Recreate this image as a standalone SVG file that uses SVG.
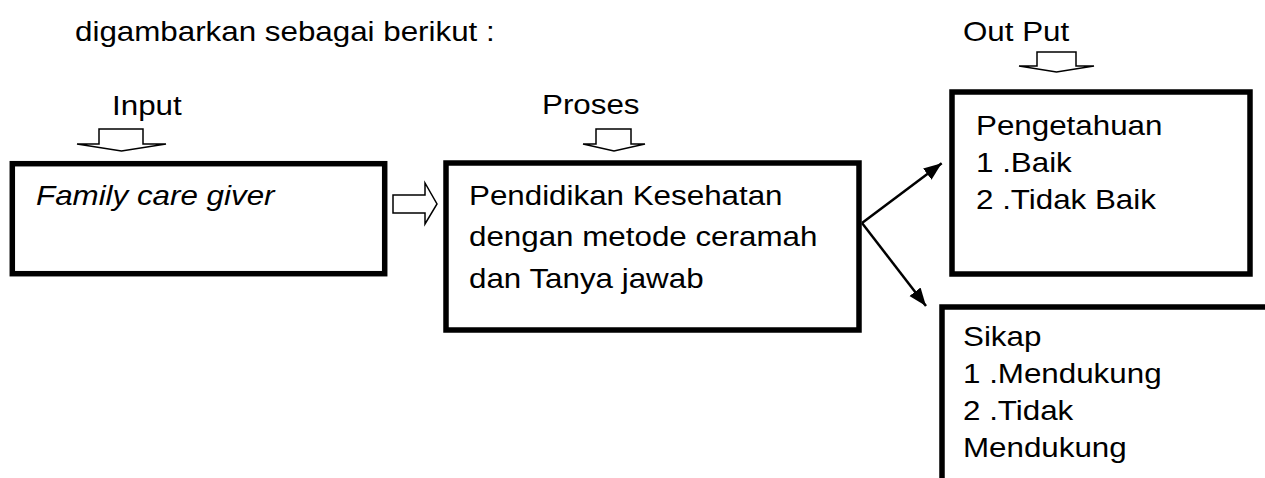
<svg xmlns="http://www.w3.org/2000/svg" width="1265" height="478" viewBox="0 0 1265 478">
<style>
  .t { font-family: "Liberation Sans", Arial, sans-serif; font-size: 28.5px; fill: #000; }
  .it { font-style: italic; }
  .box { fill: #fff; stroke: #000; stroke-width: 5.5; }
  .hollow { fill: #fff; stroke: #000; stroke-width: 1.5; stroke-linejoin: miter; }
  .con { stroke: #000; stroke-width: 2.5; fill: none; }
</style>
<defs>
  <marker id="ah" markerUnits="userSpaceOnUse" markerWidth="20" markerHeight="16" refX="18" refY="7" orient="auto">
    <path d="M0,0 L18,7 L0,14 Z" fill="#000"/>
  </marker>
</defs>
<rect width="1265" height="478" fill="#fff"/>

<text class="t" transform="translate(75,41) scale(1.1,1)">digambarkan sebagai berikut :</text>

<g id="label-input">
  <text class="t" transform="translate(112,115) scale(1.1,1)">Input</text>
  <polygon class="hollow" points="99,144 99,129 143,129 143,144 166,144 121.5,151 77,144"/>
</g>
<g id="label-proses">
  <text class="t" transform="translate(542,114) scale(1.1,1)">Proses</text>
  <polygon class="hollow" points="596,144 596,129 631,129 631,144 645,144 614,151 583,144"/>
</g>
<g id="label-output">
  <text class="t" transform="translate(963,41) scale(1.1,1)">Out Put</text>
  <polygon class="hollow" points="1037,66 1037,52 1076,52 1076,66 1094,66 1056.5,72 1019,66"/>
</g>

<g id="node-input">
  <rect class="box" x="12.3" y="163.7" width="372.4" height="110"/>
  <text class="t it" transform="translate(36,205) scale(1.1,1)">Family care giver</text>
</g>

<g id="node-proses">
  <rect class="box" x="446" y="163" width="413" height="167"/>
  <text class="t" transform="translate(469,204.5) scale(1.1,1)">
    <tspan x="0" y="0">Pendidikan Kesehatan</tspan>
    <tspan x="0" y="42">dengan metode ceramah</tspan>
    <tspan x="0" y="84">dan Tanya jawab</tspan>
  </text>
</g>

<g id="node-pengetahuan">
  <rect class="box" x="952" y="92" width="298" height="182"/>
  <text class="t" transform="translate(976,135) scale(1.1,1)">
    <tspan x="0" y="0">Pengetahuan</tspan>
    <tspan x="0" y="37">1 .Baik</tspan>
    <tspan x="0" y="74">2 .Tidak Baik</tspan>
  </text>
</g>

<g id="node-sikap">
  <rect class="box" x="942" y="307" width="340" height="200"/>
  <text class="t" transform="translate(963,346) scale(1.1,1)">
    <tspan x="0" y="0">Sikap</tspan>
    <tspan x="0" y="37">1 .Mendukung</tspan>
    <tspan x="0" y="74">2 .Tidak</tspan>
    <tspan x="0" y="111">Mendukung</tspan>
  </text>
</g>

<g id="connectors">
  <polygon class="hollow" points="393,195 425,195 425,183 437,204 425,224 425,213 393,213"/>
  <line class="con" x1="862" y1="223" x2="941.7" y2="163.3" marker-end="url(#ah)"/>
  <line class="con" x1="862" y1="223" x2="926" y2="306" marker-end="url(#ah)"/>
</g>
</svg>
